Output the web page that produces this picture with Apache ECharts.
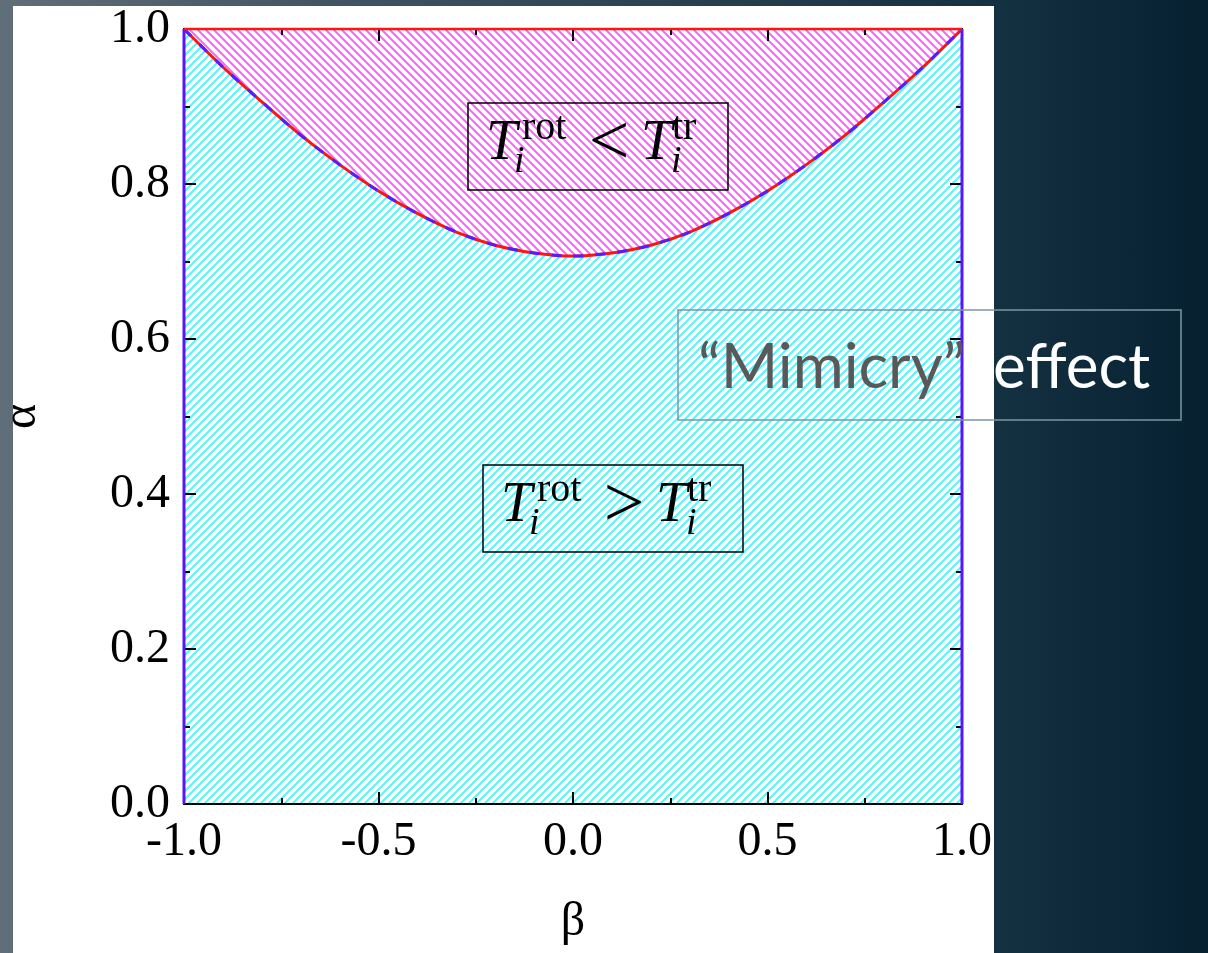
<!DOCTYPE html>
<html>
<head>
<meta charset="utf-8">
<script src="https://cdn.jsdelivr.net/npm/echarts@6/dist/echarts.min.js"></script>
<style>
  html, body { margin: 0; padding: 0; width: 1208px; height: 953px; overflow: hidden; }
  body { background: linear-gradient(to right, #5f6e78 0%, #3f5261 30%, #1e3646 72%, #143141 83%, #062030 100%); position: relative; }
  #panel { position: absolute; left: 13px; top: 6px; width: 981px; height: 947px; background: #fff; }
  #chart { position: absolute; left: 0; top: 0; width: 1208px; height: 953px; }
</style>
</head>
<body>
<div id="panel"></div>
<div id="chart"></div>
<script>
// boundary curve alpha(beta)
const betaValues = [-1.0, -0.9, -0.8, -0.7, -0.6, -0.5, -0.4, -0.3, -0.2, -0.1, 0.0,
                    0.1, 0.2, 0.3, 0.4, 0.5, 0.6, 0.7, 0.8, 0.9, 1.0];
const alphaValues = [1.000, 0.951, 0.906, 0.863, 0.825, 0.791, 0.762, 0.738, 0.721, 0.711, 0.707,
                     0.711, 0.721, 0.738, 0.762, 0.791, 0.825, 0.863, 0.906, 0.951, 1.000];
const xTicks = { min: -1, max: 1, step: 0.5 };
const yTicks = { min: 0, max: 1, step: 0.2 };
const upperLabel = ['<', 'rot', 'tr'];
const lowerLabel = ['>', 'rot', 'tr'];

const curve = betaValues.map((b, i) => [b, alphaValues[i]]);

function hatch(color, slash){
  const s = 8;
  const c = document.createElement('canvas');
  c.width = s; c.height = s;
  const g = c.getContext('2d');
  g.strokeStyle = color;
  g.lineWidth = 2;
  g.beginPath();
  if(slash){
    g.moveTo(0, s); g.lineTo(s, 0);
    g.moveTo(-1, 1); g.lineTo(1, -1);
    g.moveTo(s - 1, s + 1); g.lineTo(s + 1, s - 1);
  } else {
    g.moveTo(0, 0); g.lineTo(s, s);
    g.moveTo(-1, s - 1); g.lineTo(1, s + 1);
    g.moveTo(s - 1, -1); g.lineTo(s + 1, 1);
  }
  g.stroke();
  return { image: c, repeat: 'repeat' };
}

const serif = '"Liberation Serif", "Times New Roman", serif';
const tickStyle = { color: '#000', width: 2 };

function axis(pos, r, showLabel, extra){
  return Object.assign({
    type: 'value',
    position: pos,
    min: r.min, max: r.max, interval: r.step,
    z: 10,
    axisLine: { show: true, onZero: false, lineStyle: { color: '#000', width: 2 } },
    axisTick: { show: true, inside: true, length: 12, lineStyle: tickStyle },
    minorTick: { show: true, splitNumber: 2, length: 6, lineStyle: tickStyle },
    splitLine: { show: false },
    axisLabel: {
      show: showLabel, color: '#000', fontFamily: serif, fontSize: 48, margin: 14,
      formatter: v => v.toFixed(1)
    }
  }, extra || {});
}

function mathBox(left, top, parts){
  const italic = 'italic 56px ' + serif;
  const small = '40px ' + serif;
  const smallIt = 'italic 38px ' + serif;
  const t = (text, x, y, font, align) => ({
    type: 'text', x: left + x, y: top + y, z: 100,
    style: { text, font, fill: '#000', align: align || 'left', verticalAlign: 'middle' }
  });
  return [
    { type: 'rect', z: 100, shape: { x: left, y: top, width: 260, height: 87 },
      style: { fill: 'rgba(0,0,0,0)', stroke: '#000', lineWidth: 1.5 } },
    t('T', 18, 41, italic),
    t(parts[1], 54, 25, small),
    t('i', 46, 59, smallIt),
    t(parts[0], 141, 42, '72px ' + serif, 'center'),
    t('T', 173, 41, italic),
    t(parts[2], 204, 25, small),
    t('i', 203, 59, smallIt)
  ];
}

const chart = echarts.init(document.getElementById('chart'), null, { renderer: 'canvas' });

chart.setOption({
  backgroundColor: 'transparent',
  animation: false,
  grid: { left: 184, top: 29, right: 246, bottom: 149, containLabel: false, outerBoundsMode: 'none' },
  xAxis: [
    axis('bottom', xTicks, true, {
      name: 'β', nameLocation: 'middle', nameGap: 94,
      nameTextStyle: { fontFamily: serif, fontSize: 48, color: '#000' }
    }),
    axis('top', xTicks, false)
  ],
  yAxis: [
    axis('left', yTicks, true, {
      name: 'α', nameLocation: 'middle', nameGap: 138,
      nameTextStyle: { fontFamily: serif, fontSize: 48, color: '#000' }
    }),
    axis('right', yTicks, false)
  ],
  series: [
    {
      type: 'line', data: curve, smooth: 0.3, showSymbol: false, z: 1,
      lineStyle: { width: 0 },
      areaStyle: { color: hatch('#5cf2fa', true), origin: 'start', opacity: 1 }
    },
    {
      type: 'line', data: curve, smooth: 0.3, showSymbol: false, z: 1,
      lineStyle: { width: 0 },
      areaStyle: { color: hatch('#f866f8', false), origin: 'end', opacity: 1 }
    },
    {
      type: 'line', data: curve, smooth: 0.3, showSymbol: false, z: 5,
      lineStyle: { color: '#ff1414', width: 3 }
    },
    {
      type: 'line', data: curve, smooth: 0.3, showSymbol: false, z: 6,
      lineStyle: { color: '#5a1cff', width: 3, type: [10, 12] }
    },
    {
      type: 'line', data: [[-1, 0], [-1, 1]], showSymbol: false, z: 20, clip: false,
      lineStyle: { color: '#5a14ff', width: 3 }
    },
    {
      type: 'line', data: [[1, 0], [1, 1]], showSymbol: false, z: 20, clip: false,
      lineStyle: { color: '#5a14ff', width: 3 }
    },
    {
      type: 'line', data: [[-1, 1], [1, 1]], showSymbol: false, z: 20, clip: false,
      lineStyle: { color: '#ff1414', width: 2.5 }
    }
  ],
  graphic: [
    ...mathBox(468, 103, upperLabel),
    ...mathBox(483, 465, lowerLabel),
    { type: 'rect', z: 100, shape: { x: 678, y: 310, width: 503, height: 110 },
      style: { fill: 'rgba(0,0,0,0)', stroke: '#7a96a4', lineWidth: 1.5 } },
    { type: 'text', z: 101, x: 698, y: 368,
      style: { text: '“Mimicry”', font: '62px Lato, "Noto Sans", sans-serif', fill: '#595959', verticalAlign: 'middle' } },
    { type: 'text', z: 101, x: 993, y: 368,
      style: { text: 'effect', font: '62px Lato, "Noto Sans", sans-serif', fill: '#ffffff', verticalAlign: 'middle' } }
  ]
});
</script>
</body>
</html>
